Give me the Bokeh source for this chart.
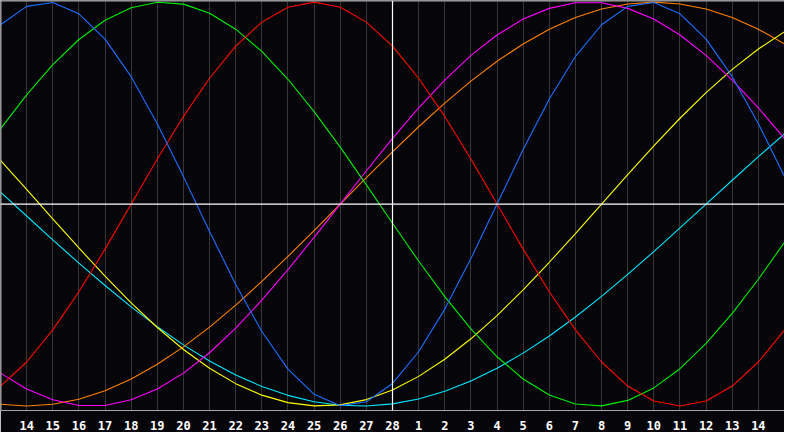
from bokeh.plotting import figure
from bokeh.models import Range1d, FixedTicker, Span
from bokeh.embed import file_html
from bokeh.resources import INLINE

# day of month shown at each day position (30 days, "today" = 28 in the centre)
day_numbers = [13, 14, 15, 16, 17, 18, 19, 20, 21, 22, 23, 24, 25, 26, 27, 28,
               1, 2, 3, 4, 5, 6, 7, 8, 9, 10, 11, 12, 13, 14, 15]
today_index = 15

# daily cycle values (-1 .. 1)
physical_23 = [0.888, 0.979, 0.998, 0.942, 0.817, 0.631, 0.398, 0.136, -0.136, -0.398,
               -0.631, -0.817, -0.942, -0.998, -0.979, -0.888, -0.731, -0.520, -0.270, 0.000,
               0.270, 0.520, 0.731, 0.888, 0.979, 0.998, 0.942, 0.817, 0.631, 0.398, 0.136]
emotional_28 = [-0.901, -0.782, -0.623, -0.434, -0.223, 0.000, 0.223, 0.434, 0.623, 0.782,
                0.901, 0.975, 1.000, 0.975, 0.901, 0.782, 0.623, 0.434, 0.223, 0.000,
                -0.223, -0.434, -0.623, -0.782, -0.901, -0.975, -1.000, -0.975, -0.901, -0.782, -0.623]
intellectual_33 = [0.372, 0.541, 0.690, 0.815, 0.910, 0.972, 0.999, 0.990, 0.945, 0.866,
                   0.756, 0.618, 0.458, 0.282, 0.095, -0.095, -0.282, -0.458, -0.618, -0.756,
                   -0.866, -0.945, -0.990, -0.999, -0.972, -0.910, -0.815, -0.690, -0.541, -0.372, -0.189]
intuitive_38 = [-0.837, -0.916, -0.969, -0.997, -0.997, -0.969, -0.916, -0.837, -0.736, -0.614,
                -0.476, -0.325, -0.165, 0.000, 0.165, 0.325, 0.476, 0.614, 0.736, 0.837,
                0.916, 0.969, 0.997, 0.997, 0.969, 0.916, 0.837, 0.736, 0.614, 0.476, 0.325]
aesthetic_43 = [0.217, 0.073, -0.073, -0.217, -0.357, -0.489, -0.611, -0.720, -0.813, -0.889,
                -0.946, -0.983, -0.999, -0.994, -0.968, -0.920, -0.853, -0.768, -0.667, -0.552,
                -0.425, -0.288, -0.146, 0.000, 0.146, 0.288, 0.425, 0.552, 0.667, 0.768, 0.853]
awareness_48 = [-0.991, -1.000, -0.991, -0.966, -0.924, -0.866, -0.793, -0.707, -0.609, -0.500,
                -0.383, -0.259, -0.131, 0.000, 0.131, 0.259, 0.383, 0.500, 0.609, 0.707,
                0.793, 0.866, 0.924, 0.966, 0.991, 1.000, 0.991, 0.966, 0.924, 0.866, 0.793]
spiritual_53 = [0.059, -0.059, -0.177, -0.292, -0.403, -0.509, -0.607, -0.697, -0.777, -0.846,
                -0.903, -0.947, -0.979, -0.996, -1.000, -0.989, -0.965, -0.927, -0.876, -0.813,
                -0.738, -0.653, -0.559, -0.457, -0.348, -0.235, -0.118, 0.000, 0.118, 0.235, 0.348]

series = [
    (spiritual_53, "#00e8ff"),
    (awareness_48, "#ff8000"),
    (aesthetic_43, "#ffff00"),
    (intuitive_38, "#ff00ff"),
    (intellectual_33, "#00ee00"),
    (emotional_28, "#ff0000"),
    (physical_23, "#1c6fff"),
]

BG = "#06060a"
n = len(day_numbers)
xs = list(range(n))
y_top, y_bot = 1.008, -1.022

p = figure(width=784, height=432,
           x_range=Range1d(0, n - 1), y_range=Range1d(y_bot, y_top),
           output_backend="svg", toolbar_location=None,
           y_axis_location=None,
           min_border_left=0, min_border_right=0, min_border_top=0, min_border_bottom=20,
           background_fill_color=BG, border_fill_color=BG, outline_line_color=None)

tick_pos = list(range(1, n - 1))
p.xgrid.ticker = FixedTicker(ticks=tick_pos)
p.xgrid.grid_line_color = "#363636"
p.xgrid.grid_line_width = 1
p.ygrid.grid_line_color = None

ax = p.xaxis[0]
ax.ticker = FixedTicker(ticks=tick_pos)
ax.major_label_overrides = {i: str(day_numbers[i]) for i in tick_pos}
ax.axis_line_color = "#a8a8a8"
ax.axis_line_width = 1
ax.major_tick_line_color = None
ax.minor_tick_line_color = None
ax.major_label_text_color = "white"
ax.major_label_text_font = "DejaVu Sans Mono"
ax.major_label_text_font_style = "bold"
ax.major_label_text_font_size = "12px"
ax.major_label_standoff = 4

# frame borders (left, top)
p.add_layout(Span(location=0, dimension="height", line_color="#a8a8a8", line_width=2))
p.add_layout(Span(location=y_top, dimension="width", line_color="#a8a8a8", line_width=2))

for vals, col in series:
    p.line(xs, vals, line_color=col, line_width=1.1)

# today line and zero line
p.add_layout(Span(location=today_index, dimension="height", line_color="white", line_width=1.2))
p.add_layout(Span(location=0, dimension="width", line_color="white", line_width=1.2))

open("out.html", "w").write(file_html(p, INLINE))
